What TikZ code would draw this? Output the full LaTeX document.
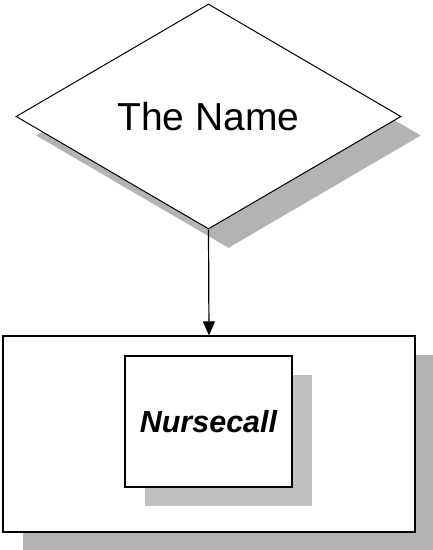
\documentclass[tikz,border=0pt]{standalone}
\usepackage{fontspec}
\setmainfont{Liberation Sans}
\usepackage{tikz}
\usetikzlibrary{arrows.meta,shapes.geometric,shadows}
\definecolor{shadowdark}{HTML}{B3B3B3}
\definecolor{shadowlight}{HTML}{C0C0C0}

\begin{document}
\begin{tikzpicture}[x=1pt,y=-1pt,
  dia/.style={draw,line width=1pt,fill=white,shape=diamond,inner sep=0pt,
              minimum width=385pt,minimum height=225pt,
              drop shadow={shadow xshift=20pt,shadow yshift=-19pt,fill=shadowdark,opacity=1},
              font=\fontsize{39}{40}\selectfont},
  frame/.style={draw,line width=1.2pt,fill=white,inner sep=0pt,
              minimum width=412pt,minimum height=196pt,
              drop shadow={shadow xshift=20pt,shadow yshift=-19pt,fill=shadowdark,opacity=1}},
  unit/.style={draw,line width=1.2pt,fill=white,inner sep=0pt,
              minimum width=167pt,minimum height=131pt,
              drop shadow={shadow xshift=20pt,shadow yshift=-19pt,fill=shadowlight,opacity=1},
              font=\fontsize{30.5}{32}\selectfont\bfseries\itshape},
  arr/.style={-{Triangle[length=14pt,width=12pt]},line width=1.2pt}]
\useasboundingbox (0,0) rectangle (432,550);
\node[dia] (name) at (208.5,116.5) {The Name};
\node[frame] (outer) at (209,434) {};
\node[unit] (nursecall) at (208.5,421.5) {Nursecall};
\draw[arr] (name.south) -- (outer.north);
\end{tikzpicture}
\end{document}
